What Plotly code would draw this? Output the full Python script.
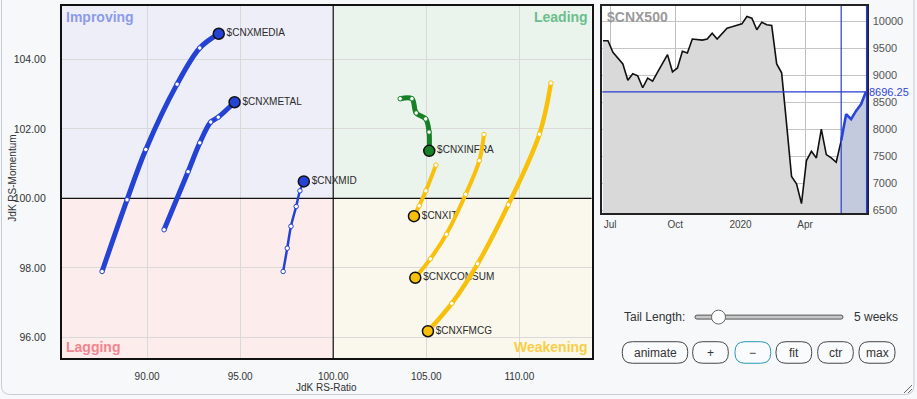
import pandas as pd
import plotly.graph_objects as go

W, H = 917, 399
FONT = "Liberation Sans, Arial, sans-serif"

# ---------------- RRG data (oldest -> newest, last = head) ----------------
media_x = [87.58, 88.92, 89.93, 91.61, 92.83, 93.85]
media_y = [97.90, 99.96, 101.41, 103.29, 104.33, 104.74]
metal_x = [90.91, 92.20, 92.83, 93.42, 93.82, 94.70]
metal_y = [99.10, 100.77, 101.60, 102.20, 102.34, 102.77]
mid_x = [97.31, 97.53, 97.73, 98.01, 98.21, 98.42]
mid_y = [97.90, 98.57, 99.20, 99.77, 100.22, 100.49]
infra_x = [103.60, 104.23, 104.46, 104.97, 105.15, 105.16]
infra_y = [102.87, 102.87, 102.46, 102.29, 101.91, 101.37]
it_x = [105.52, 104.98, 104.62, 104.34]
it_y = [100.96, 100.22, 99.79, 99.49]
consum_x = [108.10, 107.85, 107.12, 106.08, 105.22, 104.41]
consum_y = [101.84, 101.09, 100.12, 98.97, 98.26, 97.72]
fmcg_x = [111.70, 111.08, 109.41, 107.76, 106.37, 105.09]
fmcg_y = [103.32, 101.85, 99.82, 98.12, 96.98, 96.18]

series_names = ["$CNXMEDIA", "$CNXMETAL", "$CNXMID", "$CNXINFRA", "$CNXIT", "$CNXCONSUM", "$CNXFMCG"]
rs_ratio_ticks = [90, 95, 100, 105, 110]
rs_mom_ticks = [96, 98, 100, 102, 104]

# ---------------- $CNX500 weekly closes ----------------
cnx500_start = "2019-06-21"
cnx500_values = [9644, 9644, 9429, 9325, 9214, 8913, 9030, 8993, 8772, 8950,
                 8895, 9061, 9220, 9386, 9067, 9140, 9447, 9417, 9675, 9660,
                 9656, 9675, 9785, 9675, 9767, 9877, 9902, 9926, 9957, 10092,
                 10061, 9847, 9988, 9939, 9926, 9214, 9048, 8097, 7126, 6991,
                 6623, 7421, 7593, 7470, 8005, 7532, 7470, 7390, 7790, 8281,
                 8189, 8342, 8465, 8696.25]
inset_tick_dates = ["2019-07-01", "2019-10-01", "2020-01-01", "2020-04-01"]
inset_tick_text = ["Jul", "Oct", "2020", "Apr"]
inset_price_ticks = [6500, 7000, 7500, 8000, 8500, 9000, 9500, 10000]
tail_weeks = 5

dates = pd.date_range(cnx500_start, periods=len(cnx500_values), freq="7D")

BLUE = "rgb(36,66,212)"
GREEN = "rgb(22,128,38)"
YELLOW = "rgb(248,192,10)"

fig = go.Figure()

def add_tail(xs, ys, color, width, name):
    fig.add_trace(go.Scatter(
        x=xs, y=ys, mode="lines", line=dict(color=color, width=width, shape="spline", smoothing=1),
        hoverinfo="skip", showlegend=False, xaxis="x", yaxis="y"))
    fig.add_trace(go.Scatter(
        x=xs[:-1], y=ys[:-1], mode="markers",
        marker=dict(size=4.5, color="white", line=dict(color=color, width=1)),
        hoverinfo="skip", showlegend=False, xaxis="x", yaxis="y"))
    fig.add_trace(go.Scatter(
        x=xs[-1:], y=ys[-1:], mode="markers+text", text=[name], textposition="middle right",
        textfont=dict(family=FONT, size=10, color="#2a2a2a"),
        marker=dict(size=11, color=color, line=dict(color="#111", width=1.5)),
        hoverinfo="skip", showlegend=False, xaxis="x", yaxis="y"))

add_tail(media_x, media_y, BLUE, 5, series_names[0])
add_tail(metal_x, metal_y, BLUE, 5, series_names[1])
add_tail(mid_x, mid_y, BLUE, 2.5, series_names[2])
add_tail(infra_x, infra_y, GREEN, 5, series_names[3])
add_tail(it_x, it_y, YELLOW, 4, series_names[4])
add_tail(consum_x, consum_y, YELLOW, 4, series_names[5])
add_tail(fmcg_x, fmcg_y, YELLOW, 4.5, series_names[6])

# ---------------- inset traces ----------------
split = len(cnx500_values) - 1 - tail_weeks
fig.add_trace(go.Scatter(
    x=dates[:split + 1], y=cnx500_values[:split + 1], mode="lines", fill="tozeroy",
    fillcolor="#d9d9d9", line=dict(color="#111", width=1.6), hoverinfo="skip",
    showlegend=False, xaxis="x2", yaxis="y2"))
fig.add_trace(go.Scatter(
    x=dates[split:], y=cnx500_values[split:], mode="lines", fill="tozeroy",
    fillcolor="rgb(196,202,222)", line=dict(color="rgb(40,70,220)", width=2.6), hoverinfo="skip",
    showlegend=False, xaxis="x2", yaxis="y2"))

# ---------------- layout ----------------
def fx(p):
    return p / W

def fy(p):
    return 1 - p / H

xr = [85.41, 113.89]
yr = [95.41, 105.54]

shapes = []
quads = [
    (xr[0], 100, 100, yr[1], "rgb(238,238,248)"),
    (100, 100, xr[1], yr[1], "rgb(234,243,236)"),
    (xr[0], yr[0], 100, 100, "rgb(253,236,236)"),
    (100, yr[0], xr[1], 100, "rgb(250,248,236)"),
]
for x0, y0, x1, y1, c in quads:
    shapes.append(dict(type="rect", xref="x", yref="y", x0=x0, y0=y0, x1=x1, y1=y1,
                       fillcolor=c, line=dict(width=0), layer="below"))
shapes.append(dict(type="line", xref="x", yref="y", x0=100, x1=100, y0=yr[0], y1=yr[1],
                   line=dict(color="#111", width=1.2), layer="between"))
shapes.append(dict(type="line", xref="x", yref="y", x0=xr[0], x1=xr[1], y0=100, y1=100,
                   line=dict(color="#111", width=1.2), layer="between"))

# inset markers
shapes.append(dict(type="line", xref="x2", yref="y2 domain", x0=dates[split], x1=dates[split], y0=0, y1=1,
                   line=dict(color="rgb(40,60,210)", width=1.2)))
shapes.append(dict(type="line", xref="x2 domain", yref="y2", x0=0, x1=1,
                   y0=cnx500_values[-1], y1=cnx500_values[-1],
                   line=dict(color="rgb(40,60,210)", width=1.2)))
shapes.append(dict(type="line", xref="x2 domain", yref="y2 domain", x0=1, x1=1, y0=0, y1=1,
                   line=dict(color="rgb(40,60,210)", width=1.5)))

def rrect(x0, y0, x1, y1, r):
    pts = [("M", x0 + r, y0), ("L", x1 - r, y0), ("Q", x1, y0, x1, y0 + r),
           ("L", x1, y1 - r), ("Q", x1, y1, x1 - r, y1), ("L", x0 + r, y1),
           ("Q", x0, y1, x0, y1 - r), ("L", x0, y0 + r), ("Q", x0, y0, x0 + r, y0)]
    s = ""
    for p in pts:
        if p[0] == "Q":
            s += "Q{:.5f},{:.5f} {:.5f},{:.5f} ".format(fx(p[1]), fy(p[2]), fx(p[3]), fy(p[4]))
        else:
            s += "{}{:.5f},{:.5f} ".format(p[0], fx(p[1]), fy(p[2]))
    return s + "Z"

# outer widget border
shapes.append(dict(type="path", xref="paper", yref="paper", path=rrect(1.5, -12, 914, 397.5, 9),
                   line=dict(color="#c5ccd3", width=1), fillcolor="rgba(0,0,0,0)"))

# slider
shapes.append(dict(type="path", xref="paper", yref="paper", path=rrect(695, 317.5, 843, 321.5, 2),
                   line=dict(color="#555", width=1), fillcolor="#c8c8c8"))
shapes.append(dict(type="circle", xref="paper", yref="paper", x0=fx(711.5), x1=fx(725.5),
                   y0=fy(326.5), y1=fy(312.5), line=dict(color="#666", width=1), fillcolor="#ffffff"))

buttons = [("animate", 622.3, 687.7, "#444"), ("+", 692.7, 728.3, "#444"),
           ("\u2212", 735, 770.7, "rgb(40,150,180)"), ("fit", 776, 811.7, "#444"),
           ("ctr", 817.7, 853.3, "#444"), ("max", 859, 895, "#444")]
annotations = []
for label, bx0, bx1, bc in buttons:
    shapes.append(dict(type="path", xref="paper", yref="paper", path=rrect(bx0, 344.3, bx1, 366, 10),
                       line=dict(color=bc, width=1), fillcolor="#fafbfc"))
    annotations.append(dict(xref="paper", yref="paper", x=fx((bx0 + bx1) / 2), y=fy(355.3),
                            text=label, showarrow=False, xanchor="center", yanchor="middle",
                            font=dict(family=FONT, size=12, color="#333")))

# resize handle
for d in (4, 8):
    shapes.append(dict(type="line", xref="paper", yref="paper", x0=fx(912 - d), y0=fy(396), x1=fx(912), y1=fy(396 - d),
                       line=dict(color="#666", width=1)))

annotations += [
    dict(xref="paper", yref="paper", x=fx(621.5), y=fy(319.5), text="Tail Length:", showarrow=False,
         xanchor="left", yanchor="middle", font=dict(family=FONT, size=12, color="#333")),
    dict(xref="paper", yref="paper", x=fx(851.5), y=fy(319.5), text="%d weeks" % tail_weeks, showarrow=False,
         xanchor="left", yanchor="middle", font=dict(family=FONT, size=12, color="#333")),
    dict(xref="x domain", yref="y domain", x=0.004, y=0.998, text="<b>Improving</b>", showarrow=False,
         xanchor="left", yanchor="top", font=dict(family=FONT, size=14, color="rgb(140,155,232)")),
    dict(xref="x domain", yref="y domain", x=0.997, y=0.998, text="<b>Leading</b>", showarrow=False,
         xanchor="right", yanchor="top", font=dict(family=FONT, size=14, color="rgb(108,190,140)")),
    dict(xref="x domain", yref="y domain", x=0.004, y=0.002, text="<b>Lagging</b>", showarrow=False,
         xanchor="left", yanchor="bottom", font=dict(family=FONT, size=14, color="rgb(242,132,142)")),
    dict(xref="x domain", yref="y domain", x=0.997, y=0.002, text="<b>Weakening</b>", showarrow=False,
         xanchor="right", yanchor="bottom", font=dict(family=FONT, size=14, color="rgb(248,206,72)")),
    dict(xref="paper", yref="paper", x=fx(326.7), y=fy(390.5), text="JdK RS-Ratio", showarrow=False,
         xanchor="center", yanchor="middle", font=dict(family=FONT, size=10, color="#333")),
    dict(xref="paper", yref="paper", x=fx(13), y=fy(180), text="JdK RS-Momentum", showarrow=False,
         textangle=-90, xanchor="center", yanchor="middle", font=dict(family=FONT, size=10, color="#333")),
    dict(xref="x2 domain", yref="y2 domain", x=0.01, y=0.995, text="<b>$CNX500</b>", showarrow=False,
         xanchor="left", yanchor="top", font=dict(family=FONT, size=14, color="#9a9a9a")),
    dict(xref="x2 domain", yref="y2", x=1, y=cnx500_values[-1], xshift=0, text="%.2f" % cnx500_values[-1],
         showarrow=False, xanchor="left", yanchor="middle",
         font=dict(family=FONT, size=11, color="rgb(50,70,220)")),
]

fig.update_layout(
    width=W, height=H, margin=dict(l=0, r=0, t=0, b=0),
    paper_bgcolor="#f6f8fa", plot_bgcolor="#ffffff",
    font=dict(family=FONT, color="#333"),
    showlegend=False,
    xaxis=dict(domain=[fx(61.7), fx(591.7)], range=xr, tickvals=rs_ratio_ticks, tickformat=".2f",
               showgrid=True, gridcolor="#d9d9d9", gridwidth=1, zeroline=False,
               showline=True, mirror=True, linecolor="#111", linewidth=1.6,
               ticks="", ticklabelstandoff=8, tickfont=dict(family=FONT, size=10, color="#333"),
               fixedrange=True),
    yaxis=dict(domain=[fy(360.7), fy(6)], range=yr, tickvals=rs_mom_ticks, tickformat=".2f",
               showgrid=True, gridcolor="#d9d9d9", gridwidth=1, zeroline=False,
               showline=True, mirror=True, linecolor="#111", linewidth=1.6,
               ticks="", ticklabelstandoff=12, tickfont=dict(family=FONT, size=10.5, color="#333"),
               fixedrange=True),
    xaxis2=dict(domain=[fx(602.3), fx(866.7)], anchor="y2", type="date",
                range=["2019-06-20", "2020-06-27"], tickvals=inset_tick_dates, ticktext=inset_tick_text,
                showgrid=True, gridcolor="#bdbdbd", zeroline=False,
                showline=True, mirror=True, linecolor="#222", linewidth=1.5,
                ticks="", ticklabelstandoff=1, tickfont=dict(family=FONT, size=10, color="#444"),
                fixedrange=True),
    yaxis2=dict(domain=[fy(214.5), fy(6)], anchor="x2", side="right", range=[6451, 10289],
                tickvals=inset_price_ticks, tickformat="d", showgrid=True, gridcolor="#c4c4c4", zeroline=False,
                showline=True, mirror=True, linecolor="#222", linewidth=1.5,
                ticks="", ticklabelstandoff=2, tickfont=dict(family=FONT, size=11, color="#555"),
                fixedrange=True),
    shapes=shapes,
    annotations=annotations,
)

fig.write_html("out.html", config={"displayModeBar": False},
               post_script="document.body.style.margin='0px';document.body.style.overflow='hidden';")
